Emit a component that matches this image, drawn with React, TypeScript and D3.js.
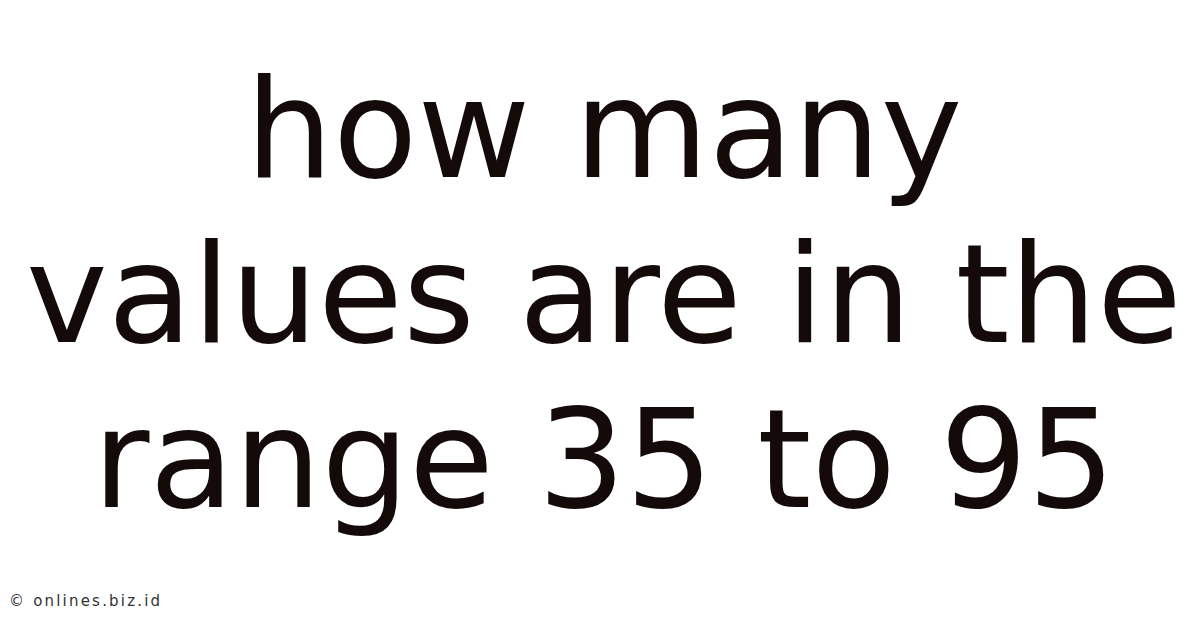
import React, { useEffect, useRef } from 'react';
import * as d3 from 'd3';

const titleLines = ['how many', 'values are in the', 'range 35 to 95'];
const watermark = '© onlines.biz.id';

const App: React.FC = () => {
    const ref = useRef<SVGSVGElement | null>(null);

    useEffect(() => {
        if (!ref.current) return;
        const width = 1200;
        const height = 628;
        const svg = d3.select(ref.current);
        svg.selectAll('*').remove();

        svg.append('rect').attr('width', width).attr('height', height).attr('fill', '#ffffff');

        // baselines of the three title lines
        const y = d3.scalePoint<string>()
            .domain(titleLines)
            .range([177, 507]);

        svg.append('g')
            .selectAll('text')
            .data(titleLines)
            .join('text')
            .attr('x', width / 2 + 4)
            .attr('y', d => y(d) ?? 0)
            .attr('text-anchor', 'middle')
            .attr('fill', '#140a0a')
            .attr('font-size', '138px')
            .attr('font-family', 'DejaVu Sans, sans-serif')
            .text(d => d);

        svg.append('text')
            .attr('x', 9)
            .attr('y', 606)
            .attr('fill', '#333333')
            .attr('font-size', '15px')
            .attr('letter-spacing', '2.2px')
            .attr('font-family', 'DejaVu Sans, sans-serif')
            .text(watermark);
    }, []);

    return (
        <svg
            ref={ref}
            width={1200}
            height={628}
            style={{ position: 'fixed', left: 0, top: 0, display: 'block' }}
        />
    );
};

export default App;
